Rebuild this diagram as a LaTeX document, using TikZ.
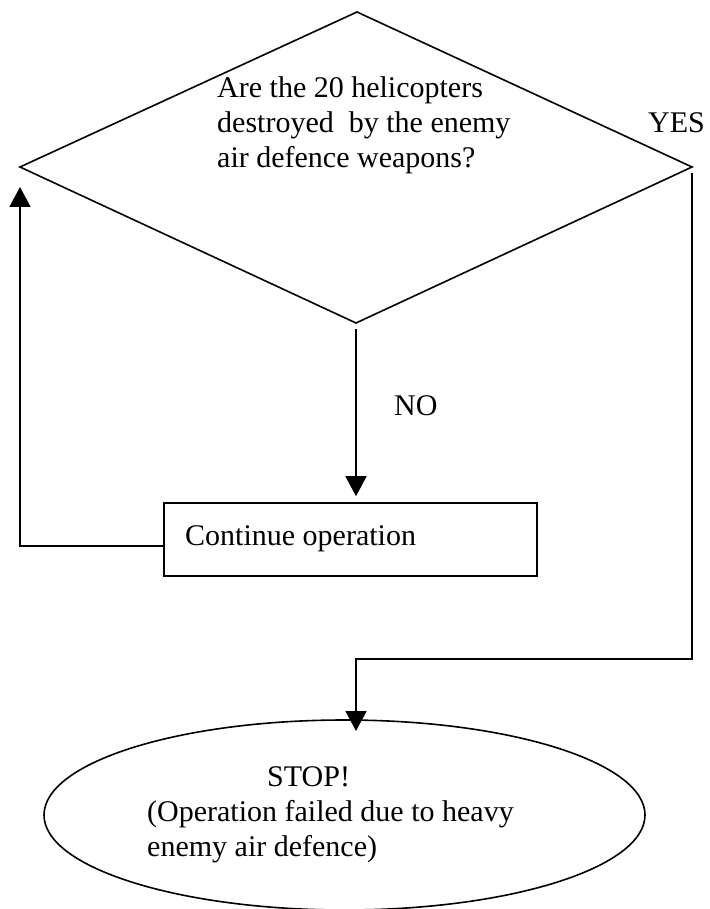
\documentclass[tikz,border=0pt]{standalone}
\usepackage{fontspec}
\setmainfont{Liberation Serif}
\usetikzlibrary{arrows.meta,shapes.geometric}
\tikzset{
  ln/.style={line width=1.6pt, line join=miter},
  arr/.style={ln, -{Triangle[length=20pt,width=21pt]}},
  txt/.style={inner sep=0pt, font=\fontsize{30}{35}\selectfont, align=left},
}
\begin{document}
\begin{tikzpicture}[x=1pt,y=-1pt]
\useasboundingbox (0,0) rectangle (709,909);
% diamond
\coordinate (dtop) at (357,12);
\coordinate (dleft) at (20,167);
\coordinate (dright) at (692,167);
\coordinate (dbot) at (356,323);
\draw[ln] (dtop) -- (dright) -- (dbot) -- (dleft) -- cycle;
\node[txt, anchor=base west] (q1) at (217,98) {Are the 20 helicopters};
\node[txt, anchor=base west] (q2) at (217,133) {destroyed\ \ by the enemy};
\node[txt, anchor=base west] (q3) at (217,168) {air defence weapons?};
% box
\node[ln, draw, minimum width=373pt, minimum height=73pt, inner sep=0pt] (box) at (350.5,539.5) {};
\node[txt, anchor=base west] (cont) at (185,545) {Continue operation};
% ellipse
\node[ln, draw, ellipse, minimum width=601pt, minimum height=190pt, inner sep=0pt] (stop) at (344.5,815) {};
\node[txt, anchor=base west] (s1) at (267,786) {STOP!};
\node[txt, anchor=base west] (s2) at (147,821) {(Operation failed due to heavy};
\node[txt, anchor=base west] (s3) at (147,856) {enemy air defence)};
% labels
\node[txt, anchor=base west] (yes) at (648,133) {YES};
\node[txt, anchor=base west] (no) at (394,415) {NO};
% connectors
\coordinate (turn) at (692,659);
\coordinate (stoptip) at (356,731);
\draw[arr] ([yshift=-6pt]dbot) -- ([yshift=6pt]dbot |- box.north);
\draw[arr] ([yshift=-6.5pt]box.west) -| ([yshift=-20pt]dleft);
\draw[arr] ([yshift=-6pt]dright) -- (turn) -| (stoptip);
\end{tikzpicture}
\end{document}
